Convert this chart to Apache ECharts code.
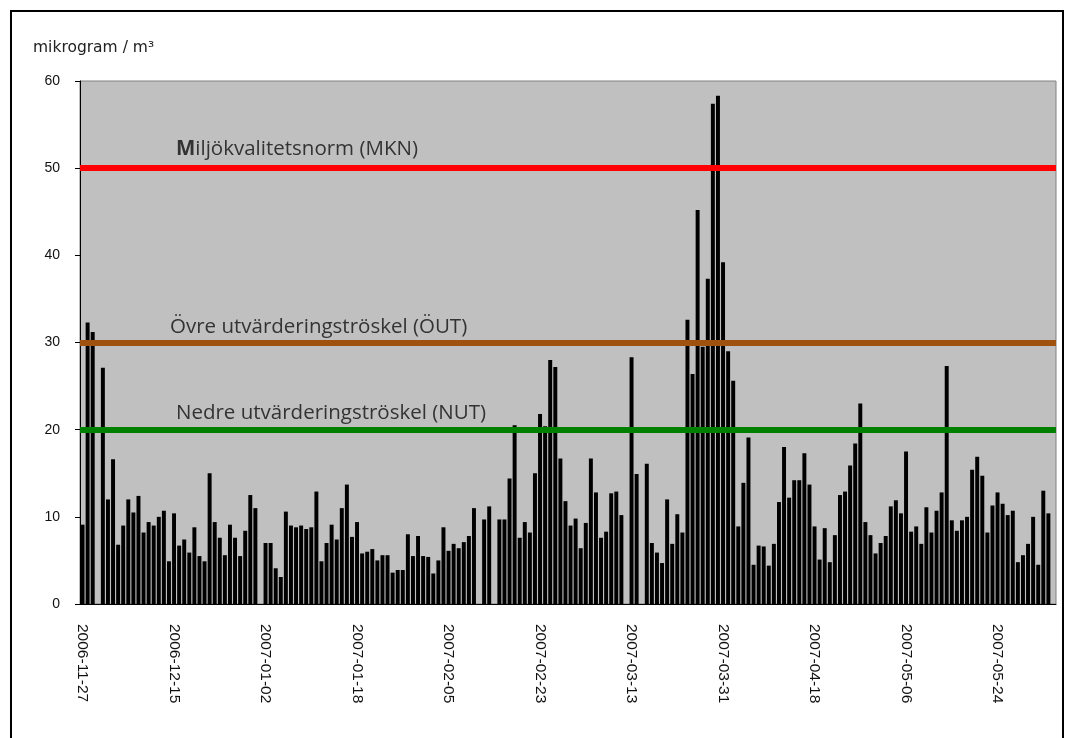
<!DOCTYPE html>
<html><head><meta charset="utf-8">
<script src="https://cdn.jsdelivr.net/npm/echarts@6/dist/echarts.min.js"></script>
<style>html,body{margin:0;padding:0;background:#fff}#c{width:1074px;height:738px}</style>
</head><body><div id="c"></div>
<script>
// ---- data ----
const startDate = '2006-11-27';
const dayCount = 192;
const repeatedDates = ['2007-01-07', '2007-01-13'];
const labelEvery = 18;
const yTicks = [0, 10, 20, 30, 40, 50, 60];
const unitLabel = 'mikrogram / m³';
const values = [
  9.1, 32.3, 31.2, null, 27.1, 12.0, 16.6, 6.8, 9.0, 12.0,
  10.5, 12.4, 8.2, 9.4, 9.0, 10.0, 10.7, 4.9, 10.4, 6.7,
  7.4, 5.9, 8.8, 5.5, 4.9, 15.0, 9.4, 7.6, 5.6, 9.1,
  7.6, 5.5, 8.4, 12.5, 11.0, null, 7.0, 7.0, 4.1, 3.1,
  10.6, 9.0, 8.8, 9.0, 8.6, 8.8, 12.9, 4.9, 7.0, 9.1,
  7.4, 11.0, 13.7, 7.7, 9.4, 5.8, 6.0, 6.3, 5.0, 5.6,
  5.6, 3.6, 3.9, 3.9, 8.0, 5.5, 7.8, 5.5, 5.4, 3.5,
  5.0, 8.8, 6.1, 6.9, 6.4, 7.1, 7.8, 11.0, null, 9.7,
  11.2, null, 9.7, 9.7, 14.4, 20.5, 7.6, 9.4, 8.2, 15.0,
  21.8, 20.4, 28.0, 27.2, 16.7, 11.8, 9.0, 9.8, 6.4, 9.3,
  16.7, 12.8, 7.6, 8.3, 12.7, 12.9, 10.2, null, 28.3, 14.9,
  null, 16.1, 7.0, 5.9, 4.7, 12.0, 6.9, 10.3, 8.2, 32.6,
  26.4, 45.2, 29.5, 37.3, 57.4, 58.3, 39.2, 29.0, 25.6, 8.9,
  13.9, 19.1, 4.5, 6.7, 6.6, 4.4, 6.9, 11.7, 18.0, 12.2,
  14.2, 14.2, 17.3, 13.7, 8.9, 5.1, 8.7, 4.8, 7.9, 12.5,
  12.9, 15.9, 18.4, 23.0, 9.4, 7.9, 5.8, 7.0, 7.8, 11.2,
  11.9, 10.4, 17.5, 8.3, 8.9, 6.9, 11.1, 8.2, 10.7, 12.8,
  27.3, 9.6, 8.4, 9.6, 10.0, 15.4, 16.9, 14.7, 8.2, 11.3,
  12.8, 11.5, 10.2, 10.7, 4.8, 5.6, 6.9, 10.0, 4.5, 13.0,
  10.4, null
];
const thresholdValues = [50, 30, 20];
const thresholdNames = ['{b|M}iljökvalitetsnorm (MKN)', 'Övre utvärderingströskel (ÖUT)', 'Nedre utvärderingströskel (NUT)'];

// ---- build categories ----
function buildCategories() {
  const out = [];
  const p = startDate.split('-').map(Number);
  const d = new Date(Date.UTC(p[0], p[1] - 1, p[2]));
  while (out.length < dayCount) {
    const s = d.toISOString().slice(0, 10);
    out.push(s);
    if (repeatedDates.includes(s) && out.length < dayCount) out.push(s);
    d.setUTCDate(d.getUTCDate() + 1);
  }
  return out;
}
const categories = buildCategories();

const lineColors = ['#FF0000', '#A0500F', '#008000'];
const labelPads = [[0, 0, 4, 91], [0, 0, 0, 85], [0, 0, 1, 91]];
const txtFont = '"Open Sans", Lato, sans-serif';
const axisFont = '"Liberation Sans", Arial, sans-serif';

const chart = echarts.init(document.getElementById('c'), null, {renderer: 'canvas'});
chart.setOption({
  animation: false,
  backgroundColor: '#ffffff',
  title: {
    text: unitLabel, left: 28, top: 35,
    textStyle: {fontFamily: '"DejaVu Sans", sans-serif', fontSize: 15.5, fontWeight: 'normal', color: '#222'}
  },
  graphic: [{
    type: 'rect', silent: true, z: -1,
    shape: {x: 11, y: 11, width: 1052, height: 760},
    style: {fill: null, stroke: '#000', lineWidth: 2}
  }],
  grid: {left: 80, top: 81, right: 18, bottom: 134, show: true, backgroundColor: '#C0C0C0', borderColor: '#808080', borderWidth: 1},
  xAxis: {
    type: 'category', data: categories, boundaryGap: true,
    axisLine: {lineStyle: {color: '#000', width: 1}},
    axisTick: {interval: 0, length: 4, lineStyle: {color: '#000'}},
    axisLabel: {interval: labelEvery - 1, rotate: -90, margin: 20, fontSize: 15.5,
      fontFamily: axisFont, color: '#111'},
    splitLine: {show: false}
  },
  yAxis: {
    type: 'value', min: yTicks[0], max: yTicks[yTicks.length - 1], interval: 10,
    axisLine: {show: true, lineStyle: {color: '#000'}},
    axisTick: {show: true, length: 5, lineStyle: {color: '#000'}},
    axisLabel: {fontSize: 14, margin: 20, fontFamily: axisFont, color: '#111'},
    splitLine: {show: false}
  },
  series: [{
    type: 'bar', data: values, barCategoryGap: '22%',
    itemStyle: {color: '#000'},
    markLine: {
      silent: true, symbol: 'none', animation: false,
      data: thresholdValues.map((v, i) => ({
        yAxis: v,
        lineStyle: {color: lineColors[i], width: 6, type: 'solid'},
        label: {
          show: true, position: 'insideStartTop', formatter: thresholdNames[i],
          padding: labelPads[i],
          fontFamily: txtFont, fontSize: 20.5, color: '#333',
          rich: {b: {fontFamily: txtFont, fontSize: 20.5, fontWeight: 'bold', color: '#333'}}
        }
      }))
    }
  }]
});
</script></body></html>
